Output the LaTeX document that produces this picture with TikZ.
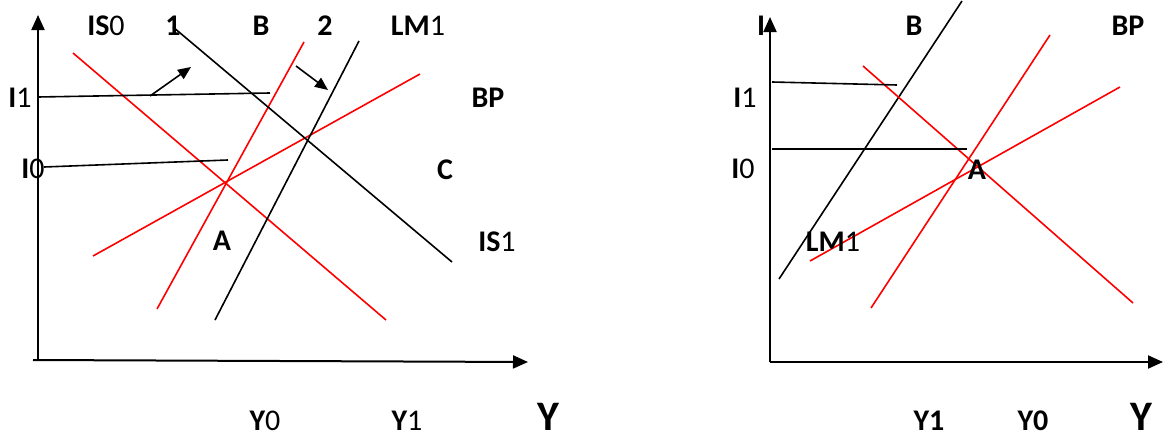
\documentclass[tikz,border=0pt]{standalone}
\usepackage{fontspec}
\setmainfont{Carlito}
\usetikzlibrary{arrows.meta}
\begin{document}
\begin{tikzpicture}[x=1pt,y=-1pt,
  ax/.style={line width=2pt,-{Triangle[length=15pt,width=13pt]}},
  blk/.style={line width=1.6pt,black},
  rd/.style={line width=1.6pt,red},
  movearrow/.style={line width=1.6pt,-{Triangle[length=13pt,width=11pt]}},
  lbl/.style={font=\fontsize{30}{34}\selectfont,inner sep=0pt},
  big/.style={font=\fontsize{42}{46}\selectfont\bfseries,inner sep=0pt}]
\useasboundingbox (0,0) rectangle (1165,439);
% ---------- left panel ----------
\coordinate (lo) at (38,361);
\coordinate (ltop) at (38,15);
\coordinate (lx0) at (33,360);
\coordinate (lxe) at (528,362);
\draw[ax] (lo) -- (ltop);
\draw[ax] (lx0) -- (lxe);
\coordinate (is0a) at (73,53);   \coordinate (is0b) at (386,320);
\coordinate (ba) at (157,309);   \coordinate (bb) at (304,42);
\coordinate (bpa) at (93,256);   \coordinate (bpb) at (420,74);
\coordinate (lma) at (215,320);  \coordinate (lmb) at (359,41);
\coordinate (is1a) at (173,27);  \coordinate (is1b) at (452,262);
\draw[rd] (is0a) -- (is0b);
\draw[rd] (ba) -- (bb);
\draw[rd] (bpa) -- (bpb);
\draw[blk] (lma) -- (lmb);
\draw[blk] (is1a) -- (is1b);
\coordinate (i1a) at (38,97);  \coordinate (i1b) at (270,93);
\coordinate (i0a) at (44,167); \coordinate (i0b) at (228,160);
\draw[blk] (i1a) -- (i1b);
\draw[blk] (i0a) -- (i0b);
\coordinate (ar1a) at (150,96); \coordinate (ar1b) at (191,67);
\coordinate (ar2a) at (296,66); \coordinate (ar2b) at (328,90);
\draw[movearrow] (ar1a) -- (ar1b);
\draw[movearrow] (ar2a) -- (ar2b);
\node[lbl] (tIS0) at (106,26) {\bfseries IS\mdseries 0};
\node[lbl] (t1) at (173,26) {\bfseries 1};
\node[lbl] (tB) at (261,26) {\bfseries B};
\node[lbl] (t2) at (325,26) {\bfseries 2};
\node[lbl] (tLM1) at (418,26) {\bfseries LM\mdseries 1};
\node[lbl] (tI1) at (20,98) {\bfseries I\mdseries 1};
\node[lbl] (tBP) at (488,98) {\bfseries BP};
\node[lbl] (tI0) at (33,169) {\bfseries I\mdseries 0};
\node[lbl] (tC) at (445,170) {\bfseries C};
\node[lbl] (tA) at (222,241) {\bfseries A};
\node[lbl] (tIS1) at (497,242) {\bfseries IS\mdseries 1};
\node[lbl] (tY0) at (265,421) {\bfseries Y\mdseries 0};
\node[lbl] (tY1) at (407,421) {\bfseries Y\mdseries 1};
\node[big] (tY) at (548,417) {Y};
% ---------- right panel ----------
\coordinate (ro) at (770,362);
\coordinate (rtop) at (770,17);
\coordinate (rxe) at (1163,362);
\draw[ax] (ro) -- (rtop);
\draw[ax] (ro) -- (rxe);
\coordinate (rba) at (779,279);  \coordinate (rbb) at (962,1);
\coordinate (risa) at (863,66);  \coordinate (risb) at (1133,303);
\coordinate (rsa) at (871,308);  \coordinate (rsb) at (1050,35);
\coordinate (rbpa) at (810,261); \coordinate (rbpb) at (1120,87);
\draw[blk] (rba) -- (rbb);
\draw[rd] (risa) -- (risb);
\draw[rd] (rsa) -- (rsb);
\draw[rd] (rbpa) -- (rbpb);
\coordinate (ri1a) at (772,82);  \coordinate (ri1b) at (897,85);
\coordinate (ri0a) at (772,149); \coordinate (ri0b) at (967,149);
\draw[blk] (ri1a) -- (ri1b);
\draw[blk] (ri0a) -- (ri0b);
\node[lbl] (rI) at (761,26) {\bfseries I};
\node[lbl] (rB) at (914,26) {\bfseries B};
\node[lbl] (rBP) at (1128,26) {\bfseries BP};
\node[lbl] (rI1) at (745,98) {\bfseries I\mdseries 1};
\node[lbl] (rI0) at (743,169) {\bfseries I\mdseries 0};
\node[lbl] (rA) at (977,170) {\bfseries A};
\node[lbl] (rLM1) at (833,242) {\bfseries LM\mdseries 1};
\node[lbl] (rY1) at (929,421) {\bfseries Y1};
\node[lbl] (rY0) at (1033,421) {\bfseries Y0};
\node[big] (rY) at (1141,417) {Y};
\end{tikzpicture}
\end{document}
